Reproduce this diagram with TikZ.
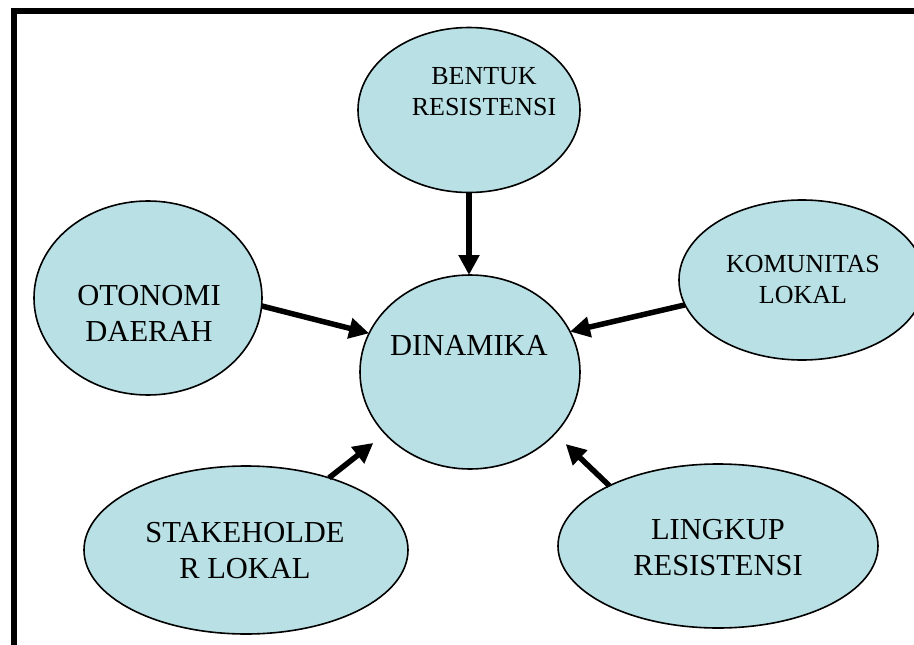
\documentclass[tikz,border=0pt]{standalone}
\usepackage{fontspec}
\setmainfont{Liberation Serif}
\usetikzlibrary{shapes.geometric, arrows.meta, positioning}
\definecolor{blobblue}{RGB}{185,224,228}
\tikzset{blob/.style={ellipse, draw, line width=1.6pt, fill=blobblue, inner sep=0pt, outer sep=0pt},
big/.style={align=center, font=\fontsize{30.5}{36}\selectfont},
small/.style={align=center, font=\fontsize{26}{31}\selectfont},
arr/.style={-{Triangle[length=20pt,width=20pt]}, line width=5.5pt}}

\begin{document}
\begin{tikzpicture}[x=1pt,y=-1pt]
\useasboundingbox (0,0) rectangle (914,645);
\draw[line width=6pt] (14,648) -- (14,11) -- (917,11);
\node[blob, minimum width=222pt, minimum height=165pt] (bentuk) at (469,110) {};
\node[small] (t-bentuk) at (484,92) {BENTUK\\RESISTENSI};
\node[blob, minimum width=228pt, minimum height=194pt] (otonomi) at (148,298) {};
\node[big] (t-otonomi) at (149,313) {OTONOMI\\DAERAH};
\node[blob, minimum width=246pt, minimum height=160pt] (komunitas) at (802,280) {};
\node[small] (t-komunitas) at (803,280) {KOMUNITAS\\LOKAL};
\node[blob, minimum width=220pt, minimum height=194pt] (dinamika) at (470,372) {};
\node[big] (t-dinamika) at (469,345) {DINAMIKA};
\node[blob, minimum width=324pt, minimum height=168pt] (stakeholder) at (246,550) {};
\node[big] (t-stakeholder) at (245,551) {STAKEHOLDE\\R LOKAL};
\node[blob, minimum width=320pt, minimum height=164pt] (lingkup) at (718,546) {};
\node[big] (t-lingkup) at (718,548) {LINGKUP\\RESISTENSI};
%\draw[help lines] (0,0) grid[step=50] (914,645);
\draw[arr] (bentuk.south) -- (bentuk.south |- dinamika.north);
\draw[arr] (otonomi.-4) -- (dinamika.159);
\draw[arr] (komunitas.192) -- (dinamika.22);
\draw[arr, shorten >=15pt] (stakeholder.41) -- (dinamika.216);
\draw[arr, shorten >=15pt] (lingkup.151) -- (dinamika.-36);
\end{tikzpicture}
\end{document}
